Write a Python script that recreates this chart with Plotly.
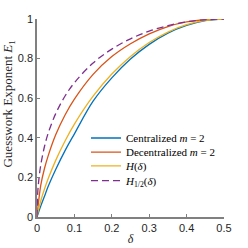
import plotly.graph_objects as go

delta = [0, 0.002, 0.005, 0.01, 0.02, 0.03, 0.05, 0.075, 0.1, 0.15, 0.2, 0.25, 0.3, 0.35, 0.4, 0.45, 0.5]
centralized = [0, 0.011, 0.028, 0.055, 0.105, 0.155, 0.24, 0.335, 0.42, 0.585, 0.703, 0.798, 0.872, 0.929, 0.968, 0.992, 1.0]
decentralized = [0, 0.04, 0.09, 0.16, 0.245, 0.31, 0.415, 0.515, 0.595, 0.72, 0.81, 0.875, 0.925, 0.962, 0.985, 0.997, 1.0]
entropy_h = [0, 0.021, 0.045, 0.081, 0.141, 0.194, 0.286, 0.384, 0.469, 0.610, 0.722, 0.811, 0.881, 0.934, 0.971, 0.993, 1.0]
renyi_half = [0, 0.124, 0.190, 0.262, 0.356, 0.424, 0.522, 0.611, 0.678, 0.778, 0.848, 0.900, 0.939, 0.966, 0.986, 0.996, 1.0]

names = ["Centralized <i>m</i> = 2", "Decentralized <i>m</i> = 2",
         "<i>H</i>(<i>δ</i>)", "<i>H</i><sub>1/2</sub>(<i>δ</i>)"]
series = [centralized, decentralized, entropy_h, renyi_half]
colors = ["#0072BD", "#D95319", "#EDB120", "#7E2F8E"]
dashes = ["solid", "solid", "solid", "7px,4px"]
legends = ["legend", "legend2", "legend3", "legend4"]

fig = go.Figure()
for name, ys, c, d, lg in zip(names, series, colors, dashes, legends):
    fig.add_trace(go.Scatter(x=delta, y=ys, mode="lines", name=name,
                             line=dict(color=c, width=1.3, dash=d, shape="spline"),
                             legend=lg))

serif = "Liberation Serif"
leg_common = dict(x=0.262, xanchor="left", yanchor="middle", bgcolor="rgba(0,0,0,0)",
                  borderwidth=0, font=dict(family=serif, size=11, color="#000"))
ys_leg = [0.399, 0.328, 0.258, 0.184]
layout_legs = {}
for lg, yy in zip(legends, ys_leg):
    layout_legs[lg] = dict(y=yy, **leg_common)

axis_common = dict(showline=True, linecolor="#808080", linewidth=1.5, ticks="inside",
                   ticklen=3, tickcolor="#808080", showgrid=False, zeroline=False,
                   mirror=False, automargin=False,
                   tickfont=dict(family="Liberation Sans", size=11, color="#262626"))

fig.update_layout(
    width=248, height=248,
    margin=dict(l=37, r=24, t=19, b=31, autoexpand=False),
    paper_bgcolor="white", plot_bgcolor="white",
    xaxis=dict(range=[0, 0.5], tickvals=[0, 0.1, 0.2, 0.3, 0.4, 0.5],
               ticktext=["0", "0.1", "0.2", "0.3", "0.4", "0.5"],
               title=dict(text="<i>δ</i>", font=dict(family=serif, size=12, color="#262626"), standoff=2),
               **axis_common),
    yaxis=dict(range=[0, 1], tickvals=[0, 0.2, 0.4, 0.6, 0.8, 1],
               ticktext=["0", "0.2", "0.4", "0.6", "0.8", "1"],
               **axis_common),
    showlegend=True,
    annotations=[dict(text="Guesswork Exponent <i>E</i><sub>1</sub>", textangle=-90,
                      xref="paper", yref="paper", x=-0.153, y=0.57,
                      xanchor="center", yanchor="middle", showarrow=False,
                      font=dict(family=serif, size=13, color="#262626"))],
    **layout_legs,
)

fig.write_html("out.html", config={"displayModeBar": False},
               post_script="document.body.style.margin='0';document.body.style.overflow='hidden';")
